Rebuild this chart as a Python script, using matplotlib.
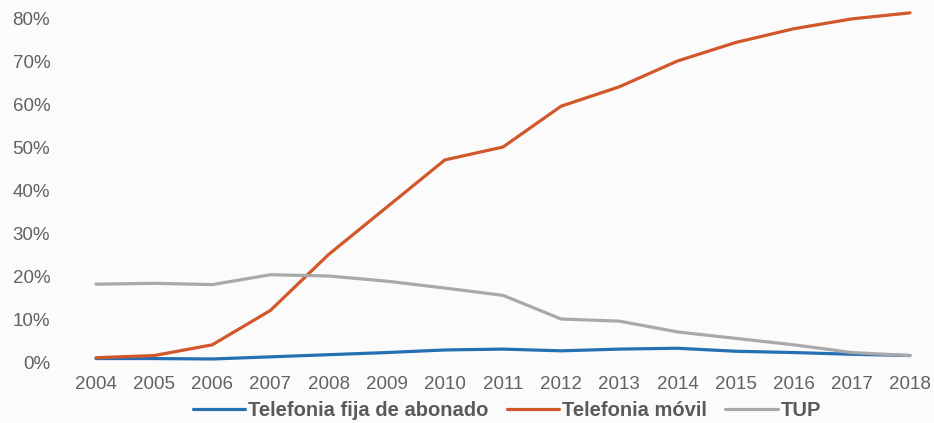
import numpy as np
import matplotlib.pyplot as plt
from matplotlib.ticker import PercentFormatter

plt.rcParams['font.family'] = ['Liberation Sans', 'DejaVu Sans']

years = np.arange(2004, 2019)
fija = [0.8, 0.8, 0.7, 1.2, 1.7, 2.2, 2.8, 3.0, 2.6, 3.0, 3.2, 2.5, 2.2, 1.8, 1.5]
movil = [1.0, 1.5, 4.0, 12.0, 25.0, 36.0, 47.0, 50.0, 59.5, 64.0, 70.0, 74.3, 77.5, 79.8, 81.2]
tup = [18.1, 18.3, 18.0, 20.3, 20.0, 18.8, 17.2, 15.5, 10.0, 9.5, 7.0, 5.5, 4.0, 2.2, 1.5]

series = [
    ('Telefonia fija de abonado', fija, '#2470b3'),
    ('Telefonia móvil', movil, '#d2572b'),
    ('TUP', tup, '#a9a9a9'),
]

fig = plt.figure(figsize=(9.34, 4.23), dpi=100, facecolor='#fbfbfb')
ax = fig.add_axes([0.1028, 0.1442, 0.8715, 0.8132])
ax.set_facecolor('#fbfbfb')

for name, vals, col in series:
    ax.plot(years, vals, color=col, lw=2.3, label=name, clip_on=False,
            solid_capstyle='round')

ax.set_xlim(2004, 2018)
ax.set_ylim(0, 80)
ax.set_yticks(np.arange(0, 81, 10))
ax.yaxis.set_major_formatter(PercentFormatter(decimals=0))
ax.set_xticks(years)
for s in ax.spines.values():
    s.set_visible(False)
ax.tick_params(length=0, labelsize=13.5, colors='#626262')
ax.tick_params(axis='y', pad=33)
ax.tick_params(axis='x', pad=10)

leg = fig.legend(loc='center', bbox_to_anchor=(0.543, 0.03), ncol=3,
                 frameon=False, fontsize=14.5, handlelength=2.6,
                 handletextpad=0.15, columnspacing=0.9)
for t in leg.get_texts():
    t.set_color('#5a5a5a')
    t.set_fontweight('bold')

fig.savefig('out.png', dpi=100, facecolor=fig.get_facecolor())
